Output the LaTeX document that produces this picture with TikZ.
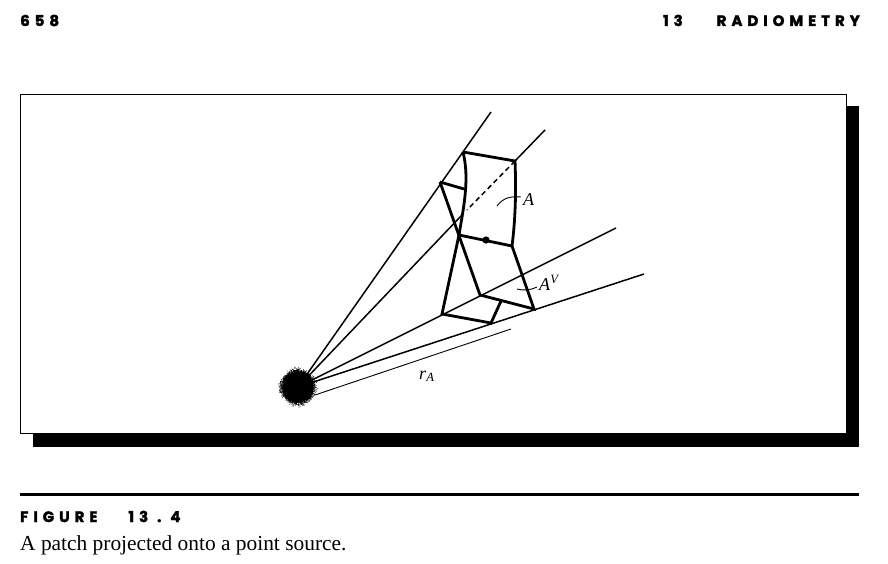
\documentclass[tikz,border=0pt]{standalone}
\usepackage{amsmath,amssymb}
\usepackage{fontspec}
\usepackage{xcolor}
\setmainfont{Liberation Serif}
\newfontfamily\headfont[LetterSpace=33,BoldFeatures={FakeBold=2.2}]{Poppins}
\usetikzlibrary{positioning}

\begin{document}
\begin{tikzpicture}[
      x=1pt, y=-1pt,
      ray/.style={line width=1.5pt},
      patch/.style={line width=2.8pt, line join=miter},
      thinline/.style={line width=0.9pt},
      lbl/.style={inner sep=0pt, font=\fontsize{18}{18}\selectfont},
      head/.style={inner sep=0pt, font=\fontsize{15}{15}\selectfont\headfont\bfseries},
      frame/.style={draw, fill=white, line width=0.9pt, inner sep=0pt, minimum width=826pt, minimum height=339pt},
      shadow/.style={fill=black, inner sep=0pt, minimum width=826pt, minimum height=341pt}]
    \useasboundingbox (0,0) rectangle (888,564);
    % page head and caption
    \node[head, anchor=base west] (page) at (20,26) {658};
    \node[head, anchor=base east] (chap) at (860,26) {13\hspace{34pt}RADIOMETRY};
    % frame with its shadow
    \node[shadow] (back) at (446,276.5) {};
    \node[frame] (frame) at (433,263.5) {};
    % source
    \node[circle, fill=black, minimum size=30pt, inner sep=0pt] (src) at (298,387) {};
    \pgfmathsetseed{7}
    \foreach \i in {1,...,1800}
      \fill (src.center) ++({rnd*360}:{14+6.5*rnd*rnd}) circle (0.4pt);
    % corners of the patch
    \coordinate (tl) at (463,152);
    \coordinate (tr) at (515,161);
    \coordinate (br) at (512,246);
    \coordinate (bl) at (459,235);
    \coordinate (ptl) at (440,182);
    \coordinate (pm) at (464,189);
    \coordinate (pa) at (480,295);
    \coordinate (pb) at (534,309);
    \coordinate (pc) at (442,314);
    \coordinate (pd) at (491,323);
    \coordinate (pe) at (501,301);
    % free ends of the rays
    \coordinate (e1) at (491,112);
    \coordinate (e2) at (545,130);
    \coordinate (e3) at (616,228);
    \coordinate (e4) at (644,274);
    \coordinate (e5) at (462,215);
    \coordinate (e6) at (467,210);
    \coordinate (r1) at (315,395);
    \coordinate (r2) at (511,329);
    \draw[ray] (src.center) -- (e1);
    \draw[ray] (src.center) -- (e5);
    \draw[ray] (tr) -- (e2);
    \draw[ray] (src.center) -- (e3);
    \draw[ray] (src.center) -- (e4);
    \draw[thinline] (r1) -- (r2);
    \draw[line width=1.5pt, dash pattern=on 5pt off 3.5pt] (tr) -- (e6);
    % patch and its projection
    \draw[patch] (tl) -- (tr) .. controls (516,185) and (516,215) .. (br) -- (bl) .. controls (463,210) and (470,180) .. (tl);
    \draw[patch] (ptl) -- (pm);
    \draw[patch] (ptl) -- (pa) -- (pb) -- (br);
    \draw[patch] (bl) -- (pc) -- (pd) -- (pe);
    \fill (486,240) circle (3.6pt) coordinate (dot);
    % labels and leaders
    \node[lbl, anchor=base west] (la) at (523,205) {\textit{A}};
    \node[lbl, anchor=base west] (lv) at (539,290) {\textit{A}\textsuperscript{\textit{V}}};
    \node[lbl, anchor=base west] (lr) at (419,379) {\textit{r}\textsubscript{\textit{A}}};
    \draw[thinline] (497,206) .. controls (503,198) and (510,196) .. (521,197);
    \draw[thinline] (517,289) .. controls (524,291) and (531,290) .. (537,287);
    % caption
    \draw[line width=3pt] (20,494) -- (859,494);
    \node[head, anchor=base west] (fig) at (20,522) {FIGURE\hspace{31pt}13\kern9pt.\kern9pt4};
    \node[lbl, anchor=base west, font=\fontsize{21.4}{21.4}\selectfont] (cap) at (20,550) {A patch projected onto a point source.};
  \end{tikzpicture}
\end{document}
